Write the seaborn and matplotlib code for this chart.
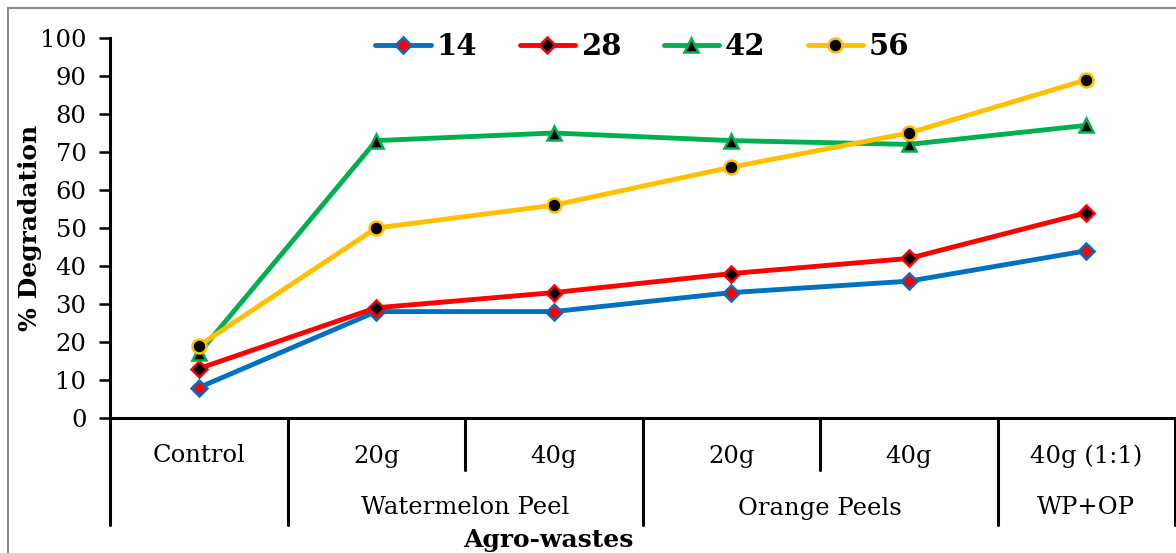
import numpy as np
import pandas as pd
import matplotlib
matplotlib.use("Agg")
import matplotlib.pyplot as plt
import matplotlib.transforms as mtransforms
from matplotlib.patches import Rectangle
import seaborn as sns

# categories on the x axis (two-level axis, like Excel)
treatments = ["Control", "20g", "40g", "20g", "40g", "40g (1:1)"]
groups = ["Watermelon Peel", "Orange Peels", "WP+OP"]
group_centers = [1.5, 3.5, 5.0]

# % degradation for each day
deg_14 = [8, 28, 28, 33, 36, 44]
deg_28 = [13, 29, 33, 38, 42, 54]
deg_42 = [17, 73, 75, 73, 72, 77]
deg_56 = [19, 50, 56, 66, 75, 89]

series = {"14": deg_14, "28": deg_28, "42": deg_42, "56": deg_56}
line_colors = {"14": "#0070C0", "28": "#FF0000", "42": "#00B050", "56": "#FFC000"}
face_colors = {"14": "#FF0000", "28": "#000000", "42": "#000000", "56": "#000000"}
markers = {"14": "D", "28": "D", "42": "^", "56": "o"}
msizes = {"14": 8.5, "28": 8.5, "42": 10, "56": 10}

rows = []
for name, vals in series.items():
    for i, v in enumerate(vals):
        rows.append({"pos": i, "deg": v, "day": name})
df = pd.DataFrame(rows)

sns.set_style("white")
plt.rcParams["font.family"] = ["DejaVu Serif"]
plt.rcParams["text.color"] = "black"
plt.rcParams["ytick.labelcolor"] = "black"

fig = plt.figure(figsize=(11.76, 5.53), dpi=100)
W, H = 1176, 553
ax = fig.add_axes([110 / W, 1 - 418 / H, (1175 - 110) / W, (418 - 38) / H])

for name in series:
    sub = df[df["day"] == name]
    sns.lineplot(data=sub, x="pos", y="deg", ax=ax, color=line_colors[name],
                 linewidth=3.5, marker=markers[name], markersize=msizes[name],
                 markerfacecolor=face_colors[name], markeredgecolor=line_colors[name],
                 markeredgewidth=1.8, label=name)

ax.set_xlim(-0.5, 5.5)
ax.set_ylim(0, 100)
ax.set_yticks(np.arange(0, 101, 10))
ax.set_xticks([])
ax.set_xlabel("")
ax.set_ylabel("")
ax.tick_params(axis="y", labelsize=17.5, length=8, width=1.8, pad=9, direction="out",
               left=True, color="black", labelcolor="black")
for s in ["top", "right"]:
    ax.spines[s].set_visible(False)
for s in ["left", "bottom"]:
    ax.spines[s].set_color("black")
    ax.spines[s].set_linewidth(2.2)

# multi-level category axis
trans = mtransforms.blended_transform_factory(ax.transData, ax.transAxes)
full = -(525 - 418) / 380
short = -(470 - 418) / 380
for xd in [-0.5, 0.5, 2.5, 4.5, 5.5]:
    ax.plot([xd, xd], [0, full], transform=trans, color="black", lw=2.2, clip_on=False)
for xd in [1.5, 3.5]:
    ax.plot([xd, xd], [0, short], transform=trans, color="black", lw=2.2, clip_on=False)
for i, t in enumerate(treatments):
    ax.text(i, -(456 - 418) / 380, t, transform=trans, ha="center", va="center",
            fontsize=17.5, color="black")
for g, c in zip(groups, group_centers):
    ax.text(c, -(508 - 418) / 380, g, transform=trans, ha="center", va="center",
            fontsize=17.5, color="black")

fig.text(548 / W, 1 - 540 / H, "Agro-wastes", ha="center", va="center",
         fontsize=18, fontweight="bold", color="black")
fig.text(30 / W, 1 - 228 / H, "% Degradation", ha="center", va="center",
         rotation=90, fontsize=18, fontweight="bold", color="black")

leg = ax.legend(loc="center", bbox_to_anchor=(0.5, 1 - (47 - 38) / 380),
                ncol=4, frameon=False, handlelength=1.9, handletextpad=0.2,
                columnspacing=1.45, prop={"size": 21, "weight": "bold"})

fig.patches.append(Rectangle((8 / W, -0.1), 1.2, 1.1 - 8 / H, transform=fig.transFigure,
                             fill=False, edgecolor="#8c8c8c", lw=1.5))

fig.savefig("out.png", dpi=100)
